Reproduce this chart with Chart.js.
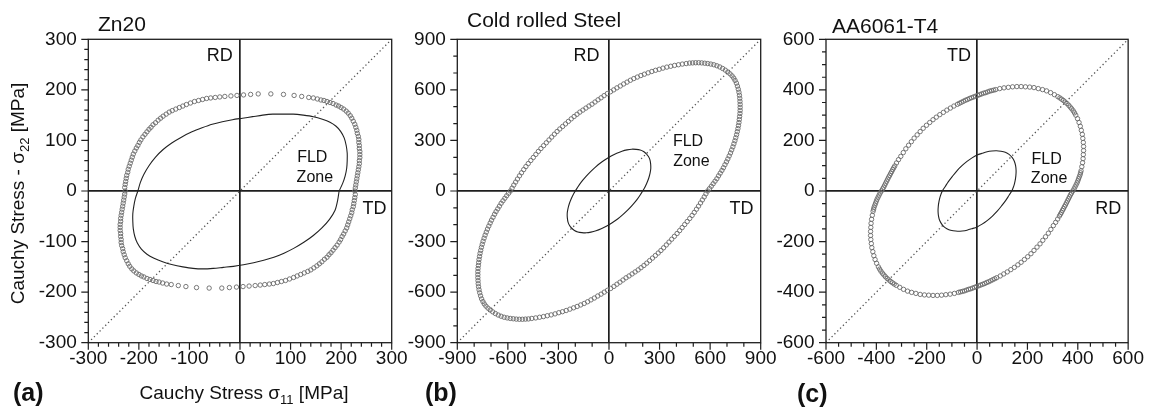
<!DOCTYPE html>
<html><head><meta charset="utf-8">
<script src="https://cdn.jsdelivr.net/npm/chart.js@4.4.0/dist/chart.umd.min.js"></script>
<style>
html,body{margin:0;padding:0;background:#fff;}
#wrap{position:relative;width:1149px;height:417px;overflow:hidden;}
#wrap canvas{position:absolute;left:0;top:0;}
</style></head>
<body><div id="wrap">
<canvas id="ca" width="1149" height="417"></canvas>
<canvas id="cb" width="1149" height="417"></canvas>
<canvas id="cc" width="1149" height="417"></canvas>
</div>
<script>
// ---------------- data ----------------
const zn20Limits = [-300, 300];
const zn20MinorStep = 20;
const zn20TickLabels = [-300, -200, -100, 0, 100, 200, 300];
const zn20Locus = [[227,0],[228,6],[229,12],[230,18],[231,24],[232,30],[233,36],[234,42],[235,48],[236,54],[236,60],[237,66],[237,72],[237,78],[236,84],[236,90],[235,96],[235,102],[234,108],[232,114],[231,120],[229,126],[227,132],[224,138],[221,144],[218,149],[214,154],[210,158],
[205,162],[200,165],[195,168],[190,170],[184,173],[178,175],[172,177],[166,179],[160,180],[153,182],[145,184],[136,185],[122,187],[107,189],[86,191],[61,192],[36,192],[21,191],[7,190],[-6,189],[-18,188],[-30,187],[-40,186],[-49,185],[-58,184],[-66,183],
[-74,181],[-82,179],[-90,177],[-98,174],[-106,171],[-113,168],[-120,165],[-127,162],[-134,159],[-140,156],[-146,152],[-152,148],[-157,144],[-162,140],[-167,135],[-172,131],[-176,126],[-180,122],[-184,117],[-188,112],[-192,107],[-196,101],[-199,96],[-202,90],[-205,85],[-208,79],[-211,73],[-213,67],[-215,61],[-217,55],[-219,49],[-221,43],[-222,37],[-224,31],[-225,25],[-226,19],[-227,13],[-228,7],
[-227,0],[-228,-6],[-229,-12],[-230,-18],[-231,-24],[-232,-30],[-233,-36],[-234,-42],[-235,-48],[-236,-54],[-236,-60],[-237,-66],[-237,-72],[-237,-78],[-236,-84],[-236,-90],[-235,-96],[-235,-102],[-234,-108],[-232,-114],[-231,-120],[-229,-126],[-227,-132],[-224,-138],[-221,-144],[-218,-149],[-214,-154],[-210,-158],
[-205,-162],[-200,-165],[-195,-168],[-190,-170],[-184,-173],[-178,-175],[-172,-177],[-166,-179],[-160,-180],[-153,-182],[-145,-184],[-136,-185],[-122,-187],[-107,-189],[-86,-191],[-61,-192],[-36,-192],[-21,-191],[-7,-190],[6,-189],[18,-188],[30,-187],[40,-186],[49,-185],[58,-184],[66,-183],
[74,-181],[82,-179],[90,-177],[98,-174],[106,-171],[113,-168],[120,-165],[127,-162],[134,-159],[140,-156],[146,-152],[152,-148],[157,-144],[162,-140],[167,-135],[172,-131],[176,-126],[180,-122],[184,-117],[188,-112],[192,-107],[196,-101],[199,-96],[202,-90],[205,-85],[208,-79],[211,-73],[213,-67],[215,-61],[217,-55],[219,-49],[221,-43],[222,-37],[224,-31],[225,-25],[226,-19],[227,-13],[228,-7]];
const zn20Fld = [[196,0],[203,15],[208,30],[211,45],[212,60],[212,75],[210,90],[206,105],[199,118],[190,128],[178,136],[163,142],[145,147],[125,150],[105,152],[85,152],[65,152],[45,150],[25,147],[5,144],[-15,141],[-35,137],[-55,132],[-75,125],[-95,117],[-115,107],[-135,95],[-152,82],[-167,67],[-180,50],[-190,33],[-197,17],[-202,0],[-207,-15],[-210,-30],[-212,-45],[-212,-60],[-211,-75],[-208,-90],[-203,-103],[-195,-115],[-184,-125],[-170,-133],[-153,-140],[-133,-146],[-113,-150],[-93,-153],[-73,-154],[-53,-153],[-33,-151],[-13,-149],[7,-146],[27,-142],[47,-137],[67,-131],[87,-123],[107,-113],[127,-101],[145,-88],[162,-73],[177,-56],[188,-38],[193,-19],[196,0]];

const steelLimits = [-900, 900];
const steelMinorStep = 100;
const steelTickLabels = [-900, -600, -300, 0, 300, 600, 900];
const steelLocus = [[585,0],[596,14],[607,28],[618,43],[629,58],[640,73],[650,90],[660,106],[670,122],[679,138],[688,156],[697,173],[705,190],[713,208],[721,226],[728,244],[735,262],[741,280],[747,298],[752,316],[757,334],[761,352],[765,370],[768,388],[771,406],[773,424],[775,442],[777,460],[778,478],[778,496],[778,514],[777,532],[776,550],[774,568],[771,586],[767,604],[762,622],[756,640],[748,656],[740,670],[730,683],[718,695],[705,706],[690,717],[674,727],[657,736],[640,743],[622,749],[604,753],[586,756],[568,758],[550,760],[532,761],[514,761],[496,760],[478,759],
[458,756],[435,753],[412,749],[389,745],[366,740],[343,735],[320,729],[298,722],[276,716],[254,709],[232,701],[210,693],[189,685],[168,676],[147,667],[127,657],[107,646],[87,635],[67,623],[47,612],[28,600],[9,589],[-10,578],[-29,566],[-47,553],[-65,541],[-83,528],[-101,515],[-119,504],[-137,492],[-155,480],[-173,468],[-190,455],[-207,442],[-224,428],[-241,413],[-258,398],[-275,383],[-292,368],[-308,353],[-324,337],[-340,320],[-356,303],[-372,286],[-388,269],[-404,252],[-419,235],[-434,217],[-449,199],[-464,181],[-479,163],[-493,145],[-506,127],[-519,108],[-531,90],[-543,71],[-554,53],[-565,35],[-575,17],
[-585,0],[-596,-14],[-607,-28],[-618,-43],[-629,-58],[-640,-73],[-650,-90],[-660,-106],[-670,-122],[-679,-138],[-688,-156],[-697,-173],[-705,-190],[-713,-208],[-721,-226],[-728,-244],[-735,-262],[-741,-280],[-747,-298],[-752,-316],[-757,-334],[-761,-352],[-765,-370],[-768,-388],[-771,-406],[-773,-424],[-775,-442],[-777,-460],[-778,-478],[-778,-496],[-778,-514],[-777,-532],[-776,-550],[-774,-568],[-771,-586],[-767,-604],[-762,-622],[-756,-640],[-748,-656],[-740,-670],[-730,-683],[-718,-695],[-705,-706],[-690,-717],[-674,-727],[-657,-736],[-640,-743],[-622,-749],[-604,-753],[-586,-756],[-568,-758],[-550,-760],[-532,-761],[-514,-761],[-496,-760],[-478,-759],
[-458,-756],[-435,-753],[-412,-749],[-389,-745],[-366,-740],[-343,-735],[-320,-729],[-298,-722],[-276,-716],[-254,-709],[-232,-701],[-210,-693],[-189,-685],[-168,-676],[-147,-667],[-127,-657],[-107,-646],[-87,-635],[-67,-623],[-47,-612],[-28,-600],[-9,-589],[10,-578],[29,-566],[47,-553],[65,-541],[83,-528],[101,-515],[119,-504],[137,-492],[155,-480],[173,-468],[190,-455],[207,-442],[224,-428],[241,-413],[258,-398],[275,-383],[292,-368],[308,-353],[324,-337],[340,-320],[356,-303],[372,-286],[388,-269],[404,-252],[419,-235],[434,-217],[449,-199],[464,-181],[479,-163],[493,-145],[506,-127],[519,-108],[531,-90],[543,-71],[554,-53],[565,-35],[575,-17]];
const steelFld = [[221,221],[205,234],[185,243],[161,247],[135,248],[107,244],[77,236],[46,224],[13,208],[-19,188],[-51,166],[-82,140],[-112,112],[-140,82],[-166,51],[-188,19],[-208,-13],[-224,-46],[-236,-77],[-244,-107],[-248,-135],[-247,-161],[-243,-185],[-234,-205],[-221,-221],[-205,-234],[-185,-243],[-161,-247],[-135,-248],[-107,-244],[-77,-236],[-46,-224],[-13,-208],[19,-188],[51,-166],[82,-140],[112,-112],[140,-82],[166,-51],[188,-19],[208,13],[224,46],[236,77],[244,107],[248,135],[247,161],[243,185],[234,205],[221,221]];

const aaLimits = [-600, 600];
const aaMinorStep = 50;
const aaTickLabels = [-600, -400, -200, 0, 200, 400, 600];
const aaLocus = [[380,0],[385,8],[389,16],[393,24],[397,32],[400,40],[403,48],[406,56],[409,64],[411,72],[413,80],[416,96],[419,112],[421,128],[422,144],[423,160],[423,176],[422,192],[420,208],[418,224],[414,240],[410,256],[405,271],[399,286],[392,300],[387,309],[382,317],[376,325],[370,332],[364,339],[357,346],[350,352],[343,358],[336,363],[329,368],[321,373],[307,381],[292,389],[276,396],[260,401],[243,405],[226,409],[209,411],[192,412],[175,413],[158,413],[141,412],[124,410],[107,408],[90,405],[74,401],[66,399],[58,397],[50,395],[42,392],[34,389],[26,387],[18,384],[10,381],[2,378],[-6,375],[-14,372],[-22,369],[-30,366],[-38,362],[-46,359],[-54,355],[-62,351],[-70,347],[-78,343],[-92,336],[-106,328],[-120,320],[-134,311],[-148,302],[-162,292],[-175,282],[-188,271],[-201,260],[-214,248],[-226,235],[-238,222],[-250,209],[-261,195],[-272,181],[-283,167],[-293,152],[-303,137],[-312,124],[-320,111],[-327,99],[-331,92],[-335,85],[-339,77],[-343,70],[-347,62],[-351,55],[-355,47],[-359,39],[-363,31],[-367,23],[-371,15],[-375,8],
[-380,0],[-385,-8],[-389,-16],[-393,-24],[-397,-32],[-400,-40],[-403,-48],[-406,-56],[-409,-64],[-411,-72],[-413,-80],[-416,-96],[-419,-112],[-421,-128],[-422,-144],[-423,-160],[-423,-176],[-422,-192],[-420,-208],[-418,-224],[-414,-240],[-410,-256],[-405,-271],[-399,-286],[-392,-300],[-387,-309],[-382,-317],[-376,-325],[-370,-332],[-364,-339],[-357,-346],[-350,-352],[-343,-358],[-336,-363],[-329,-368],[-321,-373],[-307,-381],[-292,-389],[-276,-396],[-260,-401],[-243,-405],[-226,-409],[-209,-411],[-192,-412],[-175,-413],[-158,-413],[-141,-412],[-124,-410],[-107,-408],[-90,-405],[-74,-401],[-66,-399],[-58,-397],[-50,-395],[-42,-392],[-34,-389],[-26,-387],[-18,-384],[-10,-381],[-2,-378],[6,-375],[14,-372],[22,-369],[30,-366],[38,-362],[46,-359],[54,-355],[62,-351],[70,-347],[78,-343],[92,-336],[106,-328],[120,-320],[134,-311],[148,-302],[162,-292],[175,-282],[188,-271],[201,-260],[214,-248],[226,-235],[238,-222],[250,-209],[261,-195],[272,-181],[283,-167],[293,-152],[303,-137],[312,-124],[320,-111],[327,-99],[331,-92],[335,-85],[339,-77],[343,-70],[347,-62],[351,-55],[355,-47],[359,-39],[363,-31],[367,-23],[371,-15],[375,-8]];
const aaFld = [[138,0],[146,20],[151,40],[154,60],[155,80],[153,100],[148,118],[139,133],[127,145],[112,153],[95,157],[77,159],[59,158],[40,155],[20,149],[0,142],[-20,131],[-40,117],[-60,100],[-80,80],[-98,58],[-114,37],[-127,17],[-138,0],[-146,-20],[-151,-40],[-154,-60],[-155,-80],[-153,-100],[-148,-118],[-139,-133],[-127,-145],[-112,-153],[-95,-157],[-77,-159],[-59,-158],[-40,-155],[-20,-149],[0,-142],[20,-131],[40,-117],[60,-100],[80,-80],[98,-58],[114,-37],[127,-17],[138,0]];

const panelTitles = ['Zn20', 'Cold rolled Steel', 'AA6061-T4'];
const panelTags = ['(a)', '(b)', '(c)'];
const directionLabels = [['RD', 'TD'], ['RD', 'TD'], ['TD', 'RD']];
const zoneLabel = ['FLD', 'Zone'];

// ---------------- layout (pixels / label anchors) ----------------
const FONT = '"Liberation Sans", Arial, Helvetica, sans-serif';
const PLOT_TOP = 39.3, PLOT_BOTTOM = 342.7, Y_AXIS_W = 60, X_AXIS_H = 30;
const panels = [
  {canvas:'ca', locus:zn20Locus, fld:zn20Fld, lim:zn20Limits, step:zn20MinorStep, majors:zn20TickLabels,
   left:88.3, right:391.7, title:[98,30.5], tag:[13,401],
   dirPos:[[-40,267],[266,-36]], zonePos:[[143,66],[148,26]], axisTitles:true},
  {canvas:'cb', locus:steelLocus, fld:steelFld, lim:steelLimits, step:steelMinorStep, majors:steelTickLabels,
   left:457.3, right:760.7, title:[467,27], tag:[425,401],
   dirPos:[[-133,802],[786,-109]], zonePos:[[469,292],[489,173]], axisTitles:false},
  {canvas:'cc', locus:aaLocus, fld:aaFld, lim:aaLimits, step:aaMinorStep, majors:aaTickLabels,
   left:826, right:1130, title:[832,33], tag:[797,402],
   dirPos:[[-72,535],[521,-72]], zonePos:[[276,125],[286,50]], axisTitles:false}
];

function drawRich(ctx, parts, x, y, angle) {
  ctx.save();
  ctx.translate(x, y);
  ctx.rotate(angle);
  let total = 0;
  parts.forEach(p => { ctx.font = p.font; p.w = ctx.measureText(p.t).width; total += p.w; });
  let cx = -total / 2;
  ctx.textAlign = 'left';
  ctx.textBaseline = 'alphabetic';
  ctx.fillStyle = '#111';
  parts.forEach(p => { ctx.font = p.font; ctx.fillText(p.t, cx, p.dy || 0); cx += p.w; });
  ctx.restore();
}

panels.forEach((p, i) => {
  const decor = {
    id: 'decor' + i,
    afterDraw(chart) {
      const ctx = chart.ctx;
      const a = chart.chartArea;
      const xs = chart.scales.x, ys = chart.scales.y;
      ctx.save();
      ctx.strokeStyle = '#1e1e1e';
      ctx.lineWidth = 1.3;
      ctx.strokeRect(a.left, a.top, a.right - a.left, a.bottom - a.top);
      ctx.lineWidth = 1.2;
      ctx.beginPath();
      xs.ticks.forEach(t => {
        const len = p.majors.includes(t.value) ? 7 : 4;
        const px = xs.getPixelForValue(t.value);
        ctx.moveTo(px, a.bottom); ctx.lineTo(px, a.bottom + len);
      });
      ys.ticks.forEach(t => {
        const len = p.majors.includes(t.value) ? 7 : 4;
        const py = ys.getPixelForValue(t.value);
        ctx.moveTo(a.left - len, py); ctx.lineTo(a.left, py);
      });
      ctx.stroke();
      ctx.fillStyle = '#111';
      ctx.textAlign = 'left';
      ctx.textBaseline = 'alphabetic';
      ctx.font = '21px ' + FONT;
      ctx.fillText(panelTitles[i], p.title[0], p.title[1]);
      ctx.font = 'bold 25px ' + FONT;
      ctx.fillText(panelTags[i], p.tag[0], p.tag[1]);
      ctx.textAlign = 'center';
      ctx.textBaseline = 'middle';
      ctx.font = '18px ' + FONT;
      directionLabels[i].forEach((lab, k) => {
        ctx.fillText(lab, xs.getPixelForValue(p.dirPos[k][0]), ys.getPixelForValue(p.dirPos[k][1]));
      });
      ctx.font = '16px ' + FONT;
      zoneLabel.forEach((lab, k) => {
        ctx.fillText(lab, xs.getPixelForValue(p.zonePos[k][0]), ys.getPixelForValue(p.zonePos[k][1]));
      });
      ctx.restore();
      if (p.axisTitles) {
        const big = '19px ' + FONT, sub = '13px ' + FONT;
        drawRich(ctx, [{t:'Cauchy Stress \u03C3', font:big}, {t:'11', font:sub, dy:5}, {t:' [MPa]', font:big}], 244, 399, 0);
        drawRich(ctx, [{t:'Cauchy Stress - \u03C3', font:big}, {t:'22', font:sub, dy:5}, {t:' [MPa]', font:big}], 23.5, 193.5, -Math.PI / 2);
      }
    }
  };

  const axisCommon = (isY) => ({
    type: 'linear',
    min: p.lim[0], max: p.lim[1],
    afterFit(scale) { if (isY) scale.width = Y_AXIS_W; else scale.height = X_AXIS_H; },
    border: { display: false },
    grid: {
      display: true, drawTicks: false, drawOnChartArea: true,
      color: (c) => (c.tick && c.tick.value === 0) ? '#1e1e1e' : 'rgba(0,0,0,0)',
      lineWidth: (c) => (c.tick && c.tick.value === 0) ? 1.7 : 0
    },
    ticks: {
      stepSize: p.step, autoSkip: false, maxRotation: 0, minRotation: 0,
      padding: isY ? 11.5 : 5,
      color: '#111',
      font: { family: 'Liberation Sans', size: 19 },
      callback: (v) => p.majors.includes(v) ? String(v) : ''
    }
  });

  new Chart(document.getElementById(p.canvas), {
    type: 'scatter',
    data: {
      datasets: [
        { label: 'FLD', data: p.fld.map(d => ({x: d[0], y: d[1]})), showLine: true, pointRadius: 0,
          borderColor: '#222', borderWidth: 1.1, tension: 0.3, fill: false, order: 1 },
        { label: 'locus', data: p.locus.map(d => ({x: d[0], y: d[1]})), showLine: false,
          pointStyle: 'circle', pointRadius: 2.2, pointBorderWidth: 0.9,
          pointBorderColor: '#6a6a6a', pointBackgroundColor: 'rgba(0,0,0,0)', order: 2 },
        { label: 'diag', data: [{x: p.lim[0], y: p.lim[0]}, {x: p.lim[1], y: p.lim[1]}], showLine: true,
          pointRadius: 0, borderColor: '#555', borderWidth: 1.3, borderDash: [1.3, 2.7], order: 3 }
      ]
    },
    options: {
      responsive: false, animation: false, events: [],
      layout: { padding: { left: p.left - Y_AXIS_W, right: 1149 - p.right, top: PLOT_TOP, bottom: 417 - PLOT_BOTTOM - X_AXIS_H } },
      plugins: { legend: { display: false }, tooltip: { enabled: false }, title: { display: false } },
      scales: { x: axisCommon(false), y: axisCommon(true) }
    },
    plugins: [decor]
  });
});
</script>
</body></html>
